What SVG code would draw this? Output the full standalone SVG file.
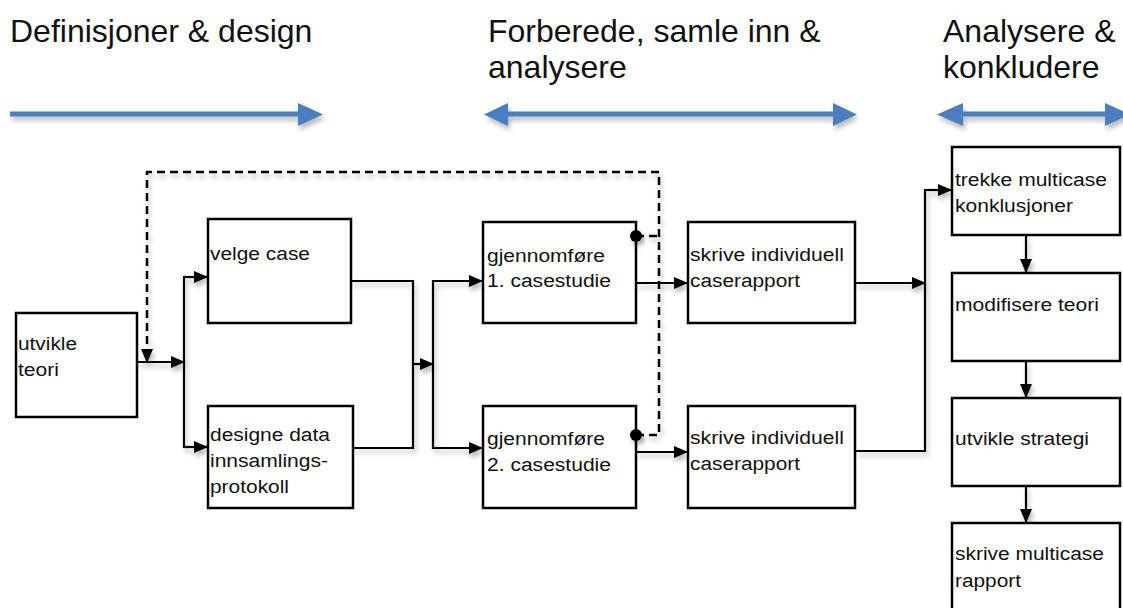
<svg xmlns="http://www.w3.org/2000/svg" width="1123" height="608" viewBox="0 0 1123 608">
<defs>
<filter id="sh" x="-10%" y="-50%" width="130%" height="250%">
<feDropShadow dx="2" dy="4" stdDeviation="2.5" flood-color="#000" flood-opacity="0.28"/>
</filter>
<marker id="ah" markerWidth="14" markerHeight="12" refX="14" refY="6" orient="auto" markerUnits="userSpaceOnUse">
<path d="M0,0 L14,6 L0,12 Z" fill="#000"/>
</marker>
<style>
.t{font-family:"Liberation Sans",Arial,sans-serif;font-size:32px;fill:#111}
.l{font-family:"Liberation Sans",Arial,sans-serif;font-size:18px;fill:#111}
.b{fill:#fff;stroke:#000;stroke-width:2.5}
.c{fill:none;stroke:#000;stroke-width:2.2}
.d{fill:none;stroke:#000;stroke-width:2.5;stroke-dasharray:8 5}
.blue{fill:#4a7ebf}
</style>
</defs>
<rect width="1123" height="608" fill="#fff"/>

<g id="titles">
<text class="t" x="10" y="42">Definisjoner &amp; design</text>
<text class="t" x="488" y="42">Forberede, samle inn &amp;</text>
<text class="t" x="488" y="78">analysere</text>
<text class="t" x="943" y="42">Analysere &amp;</text>
<text class="t" x="943" y="78">konkludere</text>
</g>

<g id="phase-arrows" filter="url(#sh)">
<rect class="blue" x="10" y="111.5" width="290" height="5"/>
<path class="blue" d="M298,103 L323,114.5 L298,126 Z"/>
<rect class="blue" x="506" y="111.5" width="329" height="5"/>
<path class="blue" d="M508,103 L484,114.5 L508,126 Z"/>
<path class="blue" d="M833,103 L857,114.5 L833,126 Z"/>
<rect class="blue" x="961" y="111.5" width="146" height="5"/>
<path class="blue" d="M963,103 L937,114.5 L963,126 Z"/>
<path class="blue" d="M1105,103 L1130,114.5 L1105,126 Z"/>
</g>

<g id="connectors" filter="url(#sh)">
<path class="d" d="M636,435 H659 V172 H147 V350"/>
<path class="d" d="M636,236 H659"/>
<path d="M141,349 L153,349 L147,363 Z" fill="#000"/>
<path class="c" d="M137,362 H185" marker-end="url(#ah)"/>
<path class="c" d="M184,276 V448"/>
<path class="c" d="M184,277 H208" marker-end="url(#ah)"/>
<path class="c" d="M184,447 H208" marker-end="url(#ah)"/>
<path class="c" d="M351,281 H413 V448 H353"/>
<path class="c" d="M413,364 H434" marker-end="url(#ah)"/>
<path class="c" d="M433,280 V449"/>
<path class="c" d="M433,281 H483" marker-end="url(#ah)"/>
<path class="c" d="M433,448 H483" marker-end="url(#ah)"/>
<path class="c" d="M636,283 H688" marker-end="url(#ah)"/>
<path class="c" d="M636,452 H688" marker-end="url(#ah)"/>
<path class="c" d="M855,283 H926" marker-end="url(#ah)"/>
<path class="c" d="M855,451 H925 V189"/>
<path class="c" d="M924,190 H952" marker-end="url(#ah)"/>
<path class="c" d="M1026,235 V273" marker-end="url(#ah)"/>
<path class="c" d="M1026,361 V398" marker-end="url(#ah)"/>
<path class="c" d="M1026,486 V523" marker-end="url(#ah)"/>
</g>

<g id="n-utvikle-teori">
<rect class="b" x="16" y="313" width="121" height="104"/>
<text class="l" x="18" y="350" textLength="59" lengthAdjust="spacingAndGlyphs">utvikle</text>
<text class="l" x="18" y="376" textLength="41" lengthAdjust="spacingAndGlyphs">teori</text>
</g>
<g id="n-velge-case">
<rect class="b" x="208" y="219" width="143" height="104"/>
<text class="l" x="210" y="260" textLength="100" lengthAdjust="spacingAndGlyphs">velge case</text>
</g>
<g id="n-designe">
<rect class="b" x="208" y="406" width="145" height="102"/>
<text class="l" x="210" y="441" textLength="120" lengthAdjust="spacingAndGlyphs">designe data</text>
<text class="l" x="210" y="467" textLength="118" lengthAdjust="spacingAndGlyphs">innsamlings-</text>
<text class="l" x="210" y="493" textLength="79" lengthAdjust="spacingAndGlyphs">protokoll</text>
</g>
<g id="n-gjennomfore-1">
<rect class="b" x="483" y="222" width="153" height="101"/>
<text class="l" x="487" y="262" textLength="118" lengthAdjust="spacingAndGlyphs">gjennomføre</text>
<text class="l" x="487" y="287" textLength="124" lengthAdjust="spacingAndGlyphs">1. casestudie</text>
</g>
<g id="n-gjennomfore-2">
<rect class="b" x="483" y="406" width="153" height="102"/>
<text class="l" x="487" y="445" textLength="118" lengthAdjust="spacingAndGlyphs">gjennomføre</text>
<text class="l" x="487" y="471" textLength="124" lengthAdjust="spacingAndGlyphs">2. casestudie</text>
</g>
<g id="n-skrive-1">
<rect class="b" x="688" y="222" width="167" height="101"/>
<text class="l" x="690" y="261" textLength="154" lengthAdjust="spacingAndGlyphs">skrive individuell</text>
<text class="l" x="690" y="287" textLength="110" lengthAdjust="spacingAndGlyphs">caserapport</text>
</g>
<g id="n-skrive-2">
<rect class="b" x="688" y="406" width="167" height="102"/>
<text class="l" x="690" y="444" textLength="154" lengthAdjust="spacingAndGlyphs">skrive individuell</text>
<text class="l" x="690" y="470" textLength="110" lengthAdjust="spacingAndGlyphs">caserapport</text>
</g>
<g id="n-trekke">
<rect class="b" x="952" y="147" width="168" height="88"/>
<text class="l" x="955" y="186" textLength="152" lengthAdjust="spacingAndGlyphs">trekke multicase</text>
<text class="l" x="955" y="212" textLength="118" lengthAdjust="spacingAndGlyphs">konklusjoner</text>
</g>
<g id="n-modifisere">
<rect class="b" x="952" y="273" width="168" height="88"/>
<text class="l" x="955" y="311" textLength="144" lengthAdjust="spacingAndGlyphs">modifisere teori</text>
</g>
<g id="n-strategi">
<rect class="b" x="952" y="398" width="168" height="88"/>
<text class="l" x="955" y="445" textLength="134" lengthAdjust="spacingAndGlyphs">utvikle strategi</text>
</g>
<g id="n-skrive-multicase">
<rect class="b" x="952" y="523" width="168" height="90"/>
<text class="l" x="955" y="560" textLength="149" lengthAdjust="spacingAndGlyphs">skrive multicase</text>
<text class="l" x="955" y="587" textLength="66" lengthAdjust="spacingAndGlyphs">rapport</text>
</g>

<g id="connector-dots" filter="url(#sh)">
<circle cx="636" cy="236" r="6" fill="#000"/>
<circle cx="636" cy="435" r="6" fill="#000"/>
</g>
</svg>
